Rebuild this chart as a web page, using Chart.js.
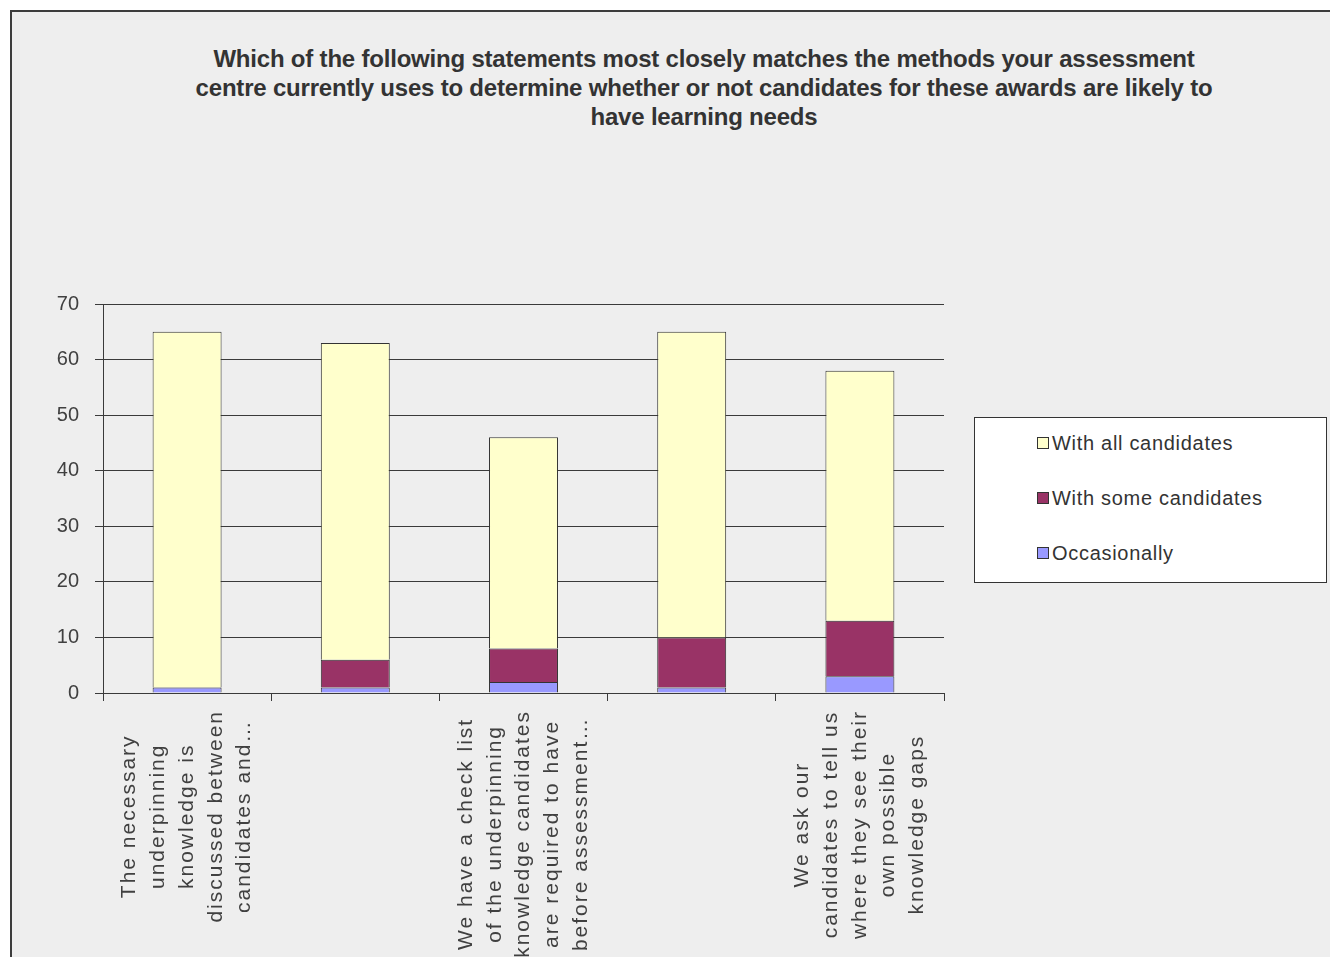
<!DOCTYPE html>
<html>
<head>
<meta charset="utf-8">
<title>Learning needs</title>
<script src="https://cdn.jsdelivr.net/npm/chart.js@4.4.1/dist/chart.umd.min.js"></script>
<style>
  html, body { margin: 0; padding: 0; background: #fff; }
  body {
    width: 1330px; height: 957px; position: relative; overflow: hidden;
    font-family: Arial, "Liberation Sans", sans-serif;
  }
  .frame {
    position: absolute; left: 10px; top: 10px; width: 1340px; height: 970px;
    border-left: 2px solid #3c3c3c; border-top: 2px solid #3c3c3c;
    background: #eeeeee;
  }
  h1.title {
    position: absolute; left: 154px; top: 44px; width: 1100px; margin: 0;
    text-align: center; font-size: 24px; line-height: 29px; font-weight: bold;
    letter-spacing: -0.2px; color: #333;
  }
  #chart { position: absolute; left: 0; top: 0; }
  #legend {
    position: absolute; left: 974px; top: 417px; width: 351px; height: 164px;
    border: 1px solid #333; background: #fff;
  }
  #legend ul { list-style: none; margin: 0; padding: 15px 0 0 62px; }
  #legend li {
    display: flex; align-items: center; height: 20px; margin-bottom: 35px;
    font-size: 20px; letter-spacing: 0.7px; color: #333;
  }
  #legend .swatch { width: 10px; height: 10px; border: 1px solid #333; margin-right: 3px; }
</style>
</head>
<body>
<div class="frame"></div>
<h1 class="title">Which of the following statements most closely matches the methods your assessment<br>centre currently uses to determine whether or not candidates for these awards are likely to<br>have learning needs</h1>
<canvas id="chart" width="1330" height="957"></canvas>
<div id="legend"><ul></ul></div>

<script>
Chart.defaults.font.family = 'Arial, "Liberation Sans", sans-serif';
Chart.defaults.color = '#404040';

// category text, already wrapped; the 2nd and 4th are not shown on the axis
const categories = [
  ['The necessary', 'underpinning', 'knowledge is', 'discussed between', 'candidates and\u2026'],
  [],
  ['We have a check list', 'of the underpinning', 'knowledge candidates', 'are required to have', 'before assessment\u2026'],
  [],
  ['We ask our', 'candidates to tell us', 'where they see their', 'own possible', 'knowledge gaps'],
];

const seriesNames = ['Occasionally', 'With some candidates', 'With all candidates'];
const occasionally   = [1, 1, 2, 1, 3];
const someCandidates = [0, 5, 6, 9, 10];
const allCandidates  = [64, 57, 38, 55, 45];

const Y_MAX  = 70;
const Y_STEP = 10;

const FILLS = ['#9999ff', '#993366', '#ffffcc'];
const LINE  = '#3a3a3a';

// wrapped category labels, rotated and centred under each bar
const wrappedLabels = {
  id: 'wrappedLabels',
  afterDraw(chart) {
    const { ctx } = chart;
    const x = chart.scales.x;
    ctx.save();
    ctx.font = '21px Arial, "Liberation Sans", sans-serif';
    ctx.letterSpacing = '2px';
    ctx.fillStyle = '#404040';
    ctx.textAlign = 'center';
    ctx.textBaseline = 'middle';
    categories.forEach((lines, i) => {
      if (!lines.length) return;
      const longest = Math.max(...lines.map(l => ctx.measureText(l).width));
      ctx.save();
      ctx.translate(x.getPixelForValue(i), x.top + 17 + longest / 2);
      ctx.rotate(-Math.PI / 2);
      lines.forEach((line, j) => {
        ctx.fillText(line, 0, (j - (lines.length - 1) / 2) * 28.7);
      });
      ctx.restore();
    });
    ctx.restore();
  },
};

const chart = new Chart(document.getElementById('chart'), {
  type: 'bar',
  data: {
    labels: categories.map(l => l.join(' ')),
    datasets: [occasionally, someCandidates, allCandidates].map((data, i) => ({
      label: seriesNames[i],
      data,
      backgroundColor: FILLS[i],
      borderColor: '#333',
      borderWidth: 1,
      categoryPercentage: 0.41,
      barPercentage: 1,
    })),
  },
  options: {
    responsive: false,
    animation: false,
    layout: { padding: { top: 304, right: 386, bottom: 0, left: 0 } },
    plugins: {
      legend: { display: false },
      tooltip: { enabled: false },
    },
    scales: {
      x: {
        stacked: true,
        ticks: { display: false },
        grid: { drawOnChartArea: false, color: LINE, tickLength: 8, offset: true },
        border: { color: LINE },
        afterFit(scale) { scale.height = 264; },
      },
      y: {
        stacked: true,
        min: 0,
        max: Y_MAX,
        ticks: { stepSize: Y_STEP, padding: 16, font: { size: 20 } },
        grid: { color: LINE, tickLength: 8 },
        border: { color: LINE },
        afterFit(scale) { scale.width = 103; },
      },
    },
  },
  plugins: [wrappedLabels],
});

// legend box, top series first
const list = document.querySelector('#legend ul');
[...chart.data.datasets].reverse().forEach(ds => {
  const li = document.createElement('li');
  const box = document.createElement('span');
  box.className = 'swatch';
  box.style.background = ds.backgroundColor;
  li.appendChild(box);
  li.appendChild(document.createTextNode(ds.label));
  list.appendChild(li);
});
</script>
</body>
</html>
